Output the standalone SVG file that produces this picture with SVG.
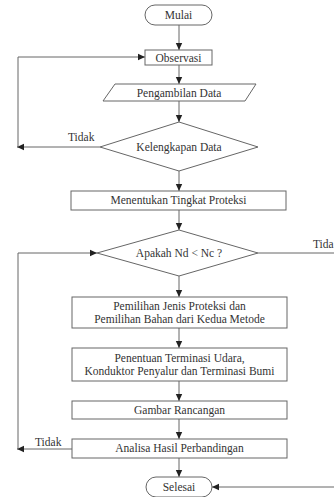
<svg xmlns="http://www.w3.org/2000/svg" width="334" height="497" viewBox="0 0 334 497" font-family="Liberation Serif">
<style>
.s{fill:#fff;stroke:#666;stroke-width:1}
.t{font-size:11.5px;fill:#333;text-anchor:middle}
.l{font-size:11.5px;fill:#333}
.c{fill:none;stroke:#666;stroke-width:1}
</style>
<defs>
<marker id="a" markerWidth="8" markerHeight="8" refX="7" refY="4" orient="auto" markerUnits="userSpaceOnUse">
<path d="M0,0.8 L7,4 L0,7.2 Z" fill="#222"/>
</marker>
</defs>
<rect width="334" height="497" fill="#fff"/>
<g id="connectors">
<path class="c" d="M179 25 V50" marker-end="url(#a)"/>
<path class="c" d="M179 65 V84" marker-end="url(#a)"/>
<path class="c" d="M179 101 V122" marker-end="url(#a)"/>
<path class="c" d="M100 147 H17" marker-end="url(#a)"/>
<path class="c" d="M18 147 V57 H145" marker-end="url(#a)"/>
<path class="c" d="M179 171 V191" marker-end="url(#a)"/>
<path class="c" d="M179 210 V230" marker-end="url(#a)"/>
<path class="c" d="M258 253 H340"/>
<path class="c" d="M179 276 V297" marker-end="url(#a)"/>
<path class="c" d="M179 328 V348" marker-end="url(#a)"/>
<path class="c" d="M179 381 V401" marker-end="url(#a)"/>
<path class="c" d="M179 419 V439" marker-end="url(#a)"/>
<path class="c" d="M72 449 H17" marker-end="url(#a)"/>
<path class="c" d="M18 449 V253 H97" marker-end="url(#a)"/>
<path class="c" d="M179 458 V477" marker-end="url(#a)"/>
<path class="c" d="M340 487 H212" marker-end="url(#a)"/>
<text class="l" x="68" y="141">Tidak</text>
<text class="l" x="313" y="248">Tida</text>
<text class="l" x="35" y="446">Tidak</text>
</g>
<g id="mulai"><rect class="s" x="145" y="5" width="67" height="20" rx="10"/><text class="t" x="178.5" y="19">Mulai</text></g>
<g id="observasi"><rect class="s" x="145" y="50" width="67" height="15"/><text class="t" x="178.5" y="61.5">Observasi</text></g>
<g id="pengambilan"><path class="s" d="M115 84 H256 L245 101 H103 Z"/><text class="t" x="179" y="96.5">Pengambilan Data</text></g>
<g id="kelengkapan"><path class="s" d="M179 122 L258 147 L179 171 L100 147 Z"/><text class="t" x="179" y="150.5">Kelengkapan Data</text></g>
<g id="menentukan"><rect class="s" x="71" y="191" width="215" height="19"/><text class="t" x="178.5" y="204">Menentukan Tingkat Proteksi</text></g>
<g id="apakah"><path class="s" d="M179 230 L258 253 L179 276 L97 253 Z"/><text class="t" x="179" y="257">Apakah Nd &lt; Nc ?</text></g>
<g id="pemilihan"><rect class="s" x="72" y="297" width="215" height="31"/><text class="t" x="179.5" y="310">Pemilihan Jenis Proteksi dan</text><text class="t" x="179.5" y="323">Pemilihan Bahan dari Kedua Metode</text></g>
<g id="penentuan"><rect class="s" x="72" y="348" width="215" height="33"/><text class="t" x="179.5" y="362">Penentuan Terminasi Udara,</text><text class="t" x="179.5" y="375">Konduktor Penyalur dan Terminasi Bumi</text></g>
<g id="gambar"><rect class="s" x="72" y="401" width="215" height="18"/><text class="t" x="179.5" y="413.5">Gambar Rancangan</text></g>
<g id="analisa"><rect class="s" x="72" y="439" width="215" height="19"/><text class="t" x="179.5" y="452">Analisa Hasil Perbandingan</text></g>
<g id="selesai"><rect class="s" x="146" y="477" width="66" height="20" rx="10"/><text class="t" x="179" y="491">Selesai</text></g>
</svg>
